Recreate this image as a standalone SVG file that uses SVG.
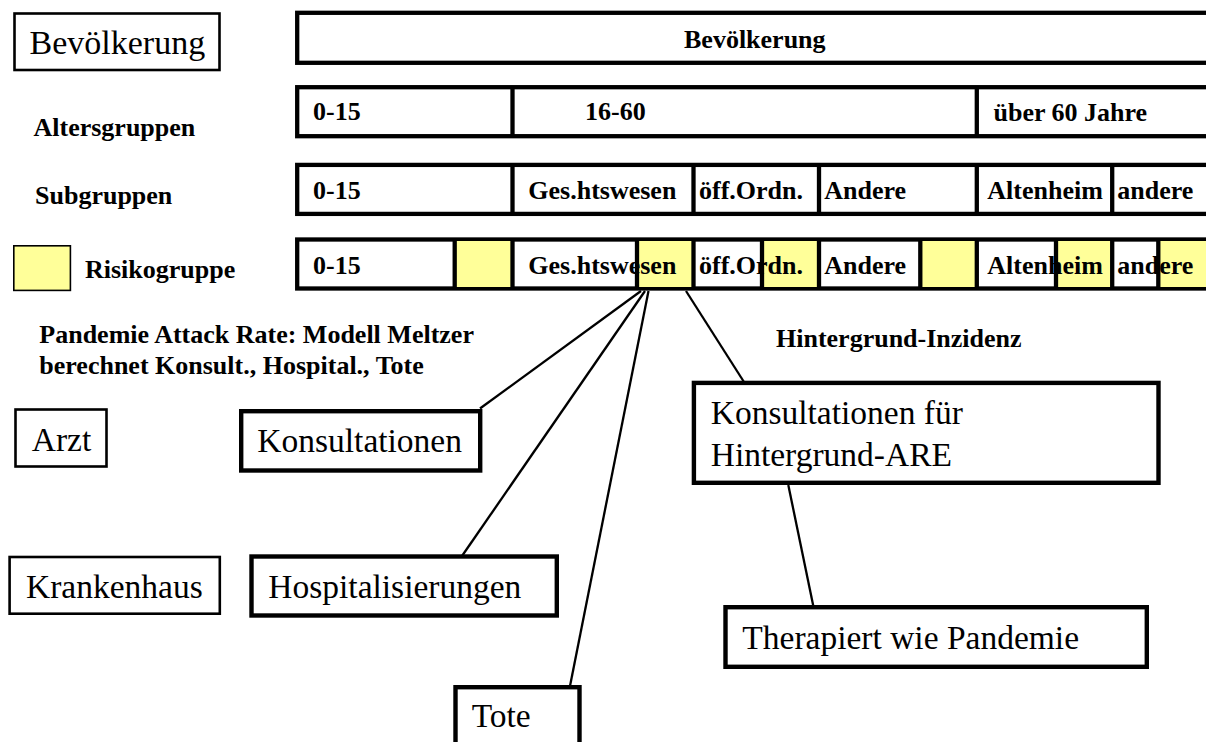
<svg xmlns="http://www.w3.org/2000/svg" width="1206" height="742" viewBox="0 0 1206 742">
<style>
text{font-family:"Liberation Serif","Times New Roman",serif;fill:#000}
.b{font-weight:bold;font-size:26px}
.r{font-size:33.5px}
.thin{fill:#fff;stroke:#000;stroke-width:2.6}
.thick{fill:#fff;stroke:#000;stroke-width:4.4}
.bar{fill:#fff;stroke:#000;stroke-width:4.3}
.div{stroke:#000;stroke-width:4.3}
.yel{fill:#ffff99}
.con{stroke:#000;stroke-width:2.3;fill:none}
</style>
<rect width="1206" height="742" fill="#fff"/>

<g id="legend-bevoelkerung">
<rect class="thin" x="14.5" y="13.5" width="205" height="56.5"/>
<text class="r" x="29.5" y="54.3" style="font-size:34px">Bevölkerung</text>
</g>
<g id="label-altersgruppen"><text class="b" x="33.5" y="136">Altersgruppen</text></g>
<g id="label-subgruppen"><text class="b" x="35" y="204">Subgruppen</text></g>
<g id="legend-risikogruppe">
<rect x="13.8" y="245.8" width="56.6" height="44.6" fill="#ffff99" stroke="#000" stroke-width="1.6"/>
<text class="b" x="85" y="278">Risikogruppe</text>
</g>

<g id="row-bevoelkerung">
<rect class="bar" x="297.2" y="12.8" width="940" height="50"/>
<text class="b" x="684" y="47.7">Bevölkerung</text>
</g>

<g id="row-altersgruppen">
<rect class="bar" x="297.2" y="87.2" width="940" height="49"/>
<line class="div" x1="512.5" y1="87.2" x2="512.5" y2="136.2"/>
<line class="div" x1="976.8" y1="87.2" x2="976.8" y2="136.2"/>
<text class="b" x="313" y="120">0-15</text>
<text class="b" x="585" y="120">16-60</text>
<text class="b" x="993.5" y="120.5">über 60 Jahre</text>
</g>

<g id="row-subgruppen">
<rect class="bar" x="297.2" y="164.9" width="940" height="49"/>
<line class="div" x1="512.5" y1="164.9" x2="512.5" y2="213.9"/>
<line class="div" x1="693.5" y1="164.9" x2="693.5" y2="213.9"/>
<line class="div" x1="819" y1="164.9" x2="819" y2="213.9"/>
<line class="div" x1="976.8" y1="164.9" x2="976.8" y2="213.9"/>
<line class="div" x1="1112.2" y1="164.9" x2="1112.2" y2="213.9"/>
<text class="b" x="313" y="199.3">0-15</text>
<text class="b" x="528.3" y="199.3">Ges.htswesen</text>
<text class="b" x="699" y="199.3">öff.Ordn.</text>
<text class="b" x="824.3" y="199.3">Andere</text>
<text class="b" x="987.3" y="199.3">Altenheim</text>
<text class="b" x="1117.3" y="199.3">andere</text>
</g>

<g id="row-risikogruppe">
<rect class="bar" x="297.2" y="239.5" width="940" height="49"/>
<rect class="yel" x="456" y="241" width="55" height="46"/>
<rect class="yel" x="638" y="241" width="54" height="46"/>
<rect class="yel" x="763" y="241" width="55" height="46"/>
<rect class="yel" x="921" y="241" width="55" height="46"/>
<rect class="yel" x="1057" y="241" width="54" height="46"/>
<rect class="yel" x="1159" y="241" width="50" height="46"/>
<text class="b" x="313" y="274">0-15</text>
<text class="b" x="528.3" y="274">Ges.htswesen</text>
<text class="b" x="699" y="274">öff.Ordn.</text>
<text class="b" x="824.3" y="274">Andere</text>
<text class="b" x="987.3" y="274">Altenheim</text>
<text class="b" x="1117.3" y="274">andere</text>
<line class="div" x1="454.7" y1="239.5" x2="454.7" y2="288.5"/>
<line class="div" x1="512.5" y1="239.5" x2="512.5" y2="288.5"/>
<line class="div" x1="637" y1="239.5" x2="637" y2="288.5"/>
<line class="div" x1="693.5" y1="239.5" x2="693.5" y2="288.5"/>
<line class="div" x1="762" y1="239.5" x2="762" y2="288.5"/>
<line class="div" x1="819" y1="239.5" x2="819" y2="288.5"/>
<line class="div" x1="920.3" y1="239.5" x2="920.3" y2="288.5"/>
<line class="div" x1="976.8" y1="239.5" x2="976.8" y2="288.5"/>
<line class="div" x1="1056" y1="239.5" x2="1056" y2="288.5"/>
<line class="div" x1="1112.2" y1="239.5" x2="1112.2" y2="288.5"/>
<line class="div" x1="1158.3" y1="239.5" x2="1158.3" y2="288.5"/>
</g>

<g id="label-pandemie">
<text class="b" x="39.3" y="343.3">Pandemie Attack Rate: Modell Meltzer</text>
<text class="b" x="39.3" y="374">berechnet Konsult., Hospital., Tote</text>
</g>
<g id="label-hintergrund"><text class="b" x="776" y="346.7">Hintergrund-Inzidenz</text></g>

<g id="connectors">
<line class="con" x1="641" y1="291" x2="480" y2="408.5"/>
<line class="con" x1="645" y1="291" x2="462" y2="556"/>
<line class="con" x1="648.5" y1="291" x2="570" y2="686"/>
<line class="con" x1="686" y1="291" x2="744" y2="382"/>
<line class="con" x1="788.3" y1="485" x2="813.3" y2="606"/>
</g>

<g id="node-arzt">
<rect class="thin" x="15.5" y="409.5" width="91" height="57"/>
<text class="r" x="31.7" y="450.7">Arzt</text>
</g>
<g id="node-konsultationen">
<rect class="thick" x="241.2" y="411.2" width="239" height="59.3"/>
<text class="r" x="257.3" y="452.3">Konsultationen</text>
</g>
<g id="node-krankenhaus">
<rect class="thin" x="9.6" y="557" width="210.2" height="56.7"/>
<text class="r" x="26" y="597.7">Krankenhaus</text>
</g>
<g id="node-hospitalisierungen">
<rect class="thick" x="251.5" y="556.5" width="305.3" height="59"/>
<text class="r" x="268.3" y="597.7">Hospitalisierungen</text>
</g>
<g id="node-tote">
<rect class="thick" x="455.5" y="687.2" width="124" height="80"/>
<text class="r" x="471.7" y="727.3">Tote</text>
</g>
<g id="node-konsultationen-hintergrund">
<rect class="thick" x="693.9" y="382.9" width="464.6" height="99.9"/>
<text class="r" x="710.7" y="424.3">Konsultationen für</text>
<text class="r" x="710.7" y="465.7">Hintergrund-ARE</text>
</g>
<g id="node-therapiert">
<rect class="thick" x="725.5" y="607.2" width="421.3" height="59.6"/>
<text class="r" x="742.3" y="649.3">Therapiert wie Pandemie</text>
</g>
</svg>
